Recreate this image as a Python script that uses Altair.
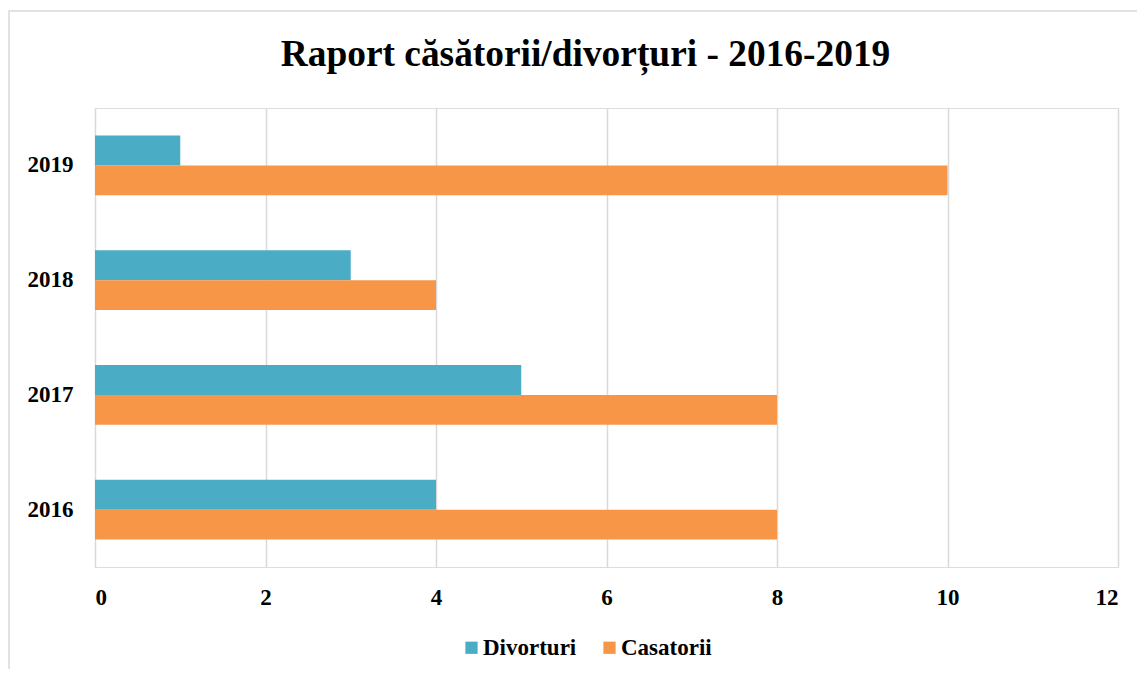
import altair as alt
import pandas as pd

years = ["2016", "2017", "2018", "2019"]
divorturi = [4, 5, 3, 1]
casatorii = [8, 8, 4, 10]
series = ["Divorturi", "Casatorii"]
colors = ["#4BACC6", "#F79646"]
x_ticks = [0, 2, 4, 6, 8, 10, 12]

rows = []
for i, y in enumerate(years):
    rows.append({"An": y, "Serie": series[0], "Valoare": divorturi[i]})
    rows.append({"An": y, "Serie": series[1], "Valoare": casatorii[i]})
df = pd.DataFrame(rows)

FONT = "Liberation Serif"

bars = alt.Chart(df).mark_bar().encode(
    x=alt.X("Valoare:Q", scale=alt.Scale(domain=[0, 12], nice=False),
            axis=alt.Axis(values=x_ticks, title=None, grid=True, domain=False, ticks=False,
                          labelPadding=19, labelFontSize=23, labelFont=FONT, labelFontWeight="bold",
                          labelColor="#000000", gridColor="#D9D9D9", gridWidth=1.5)),
    y=alt.Y("An:N", sort="descending",
            scale=alt.Scale(paddingInner=0.48, paddingOuter=0.24),
            axis=alt.Axis(title=None, domain=False, ticks=False, labelPadding=22,
                          labelFontSize=23, labelFont=FONT, labelFontWeight="bold", labelColor="#000000")),
    yOffset=alt.YOffset("Serie:N", sort=series),
    color=alt.Color("Serie:N", sort=series, scale=alt.Scale(domain=series, range=colors),
                    legend=alt.Legend(title=None, orient="none", direction="horizontal",
                                      legendX=365, legendY=528, symbolType="square", symbolSize=150,
                                      symbolStrokeWidth=0, labelFontSize=23, labelFont=FONT,
                                      labelFontWeight="bold", labelColor="#000000",
                                      columnPadding=21, labelOffset=0)),
)

frame_df = pd.DataFrame({"f": [0]})
frame = alt.Chart(frame_df).mark_rect(fill=None, stroke="#D9D9D9", strokeWidth=1.5).encode(
    x=alt.value(-86), x2=alt.value(1200), y=alt.value(-97), y2=alt.value(700)
)

chart = alt.layer(frame, bars).properties(
    width=1023, height=459,
    title=alt.Title("Raport căsătorii/divorțuri - 2016-2019", font=FONT, fontSize=37.4,
                    fontWeight="bold", color="#000000", anchor="middle", dx=-21,
                    frame="group", baseline="alphabetic", offset=-93),
    autosize=alt.AutoSizeParams(type="none"),
    padding={"left": 87, "top": 100, "right": 19, "bottom": 102},
).configure_view(stroke=None).configure(background="#FFFFFF")

chart.save("out.html", embed_options={"renderer": "svg", "actions": False})
